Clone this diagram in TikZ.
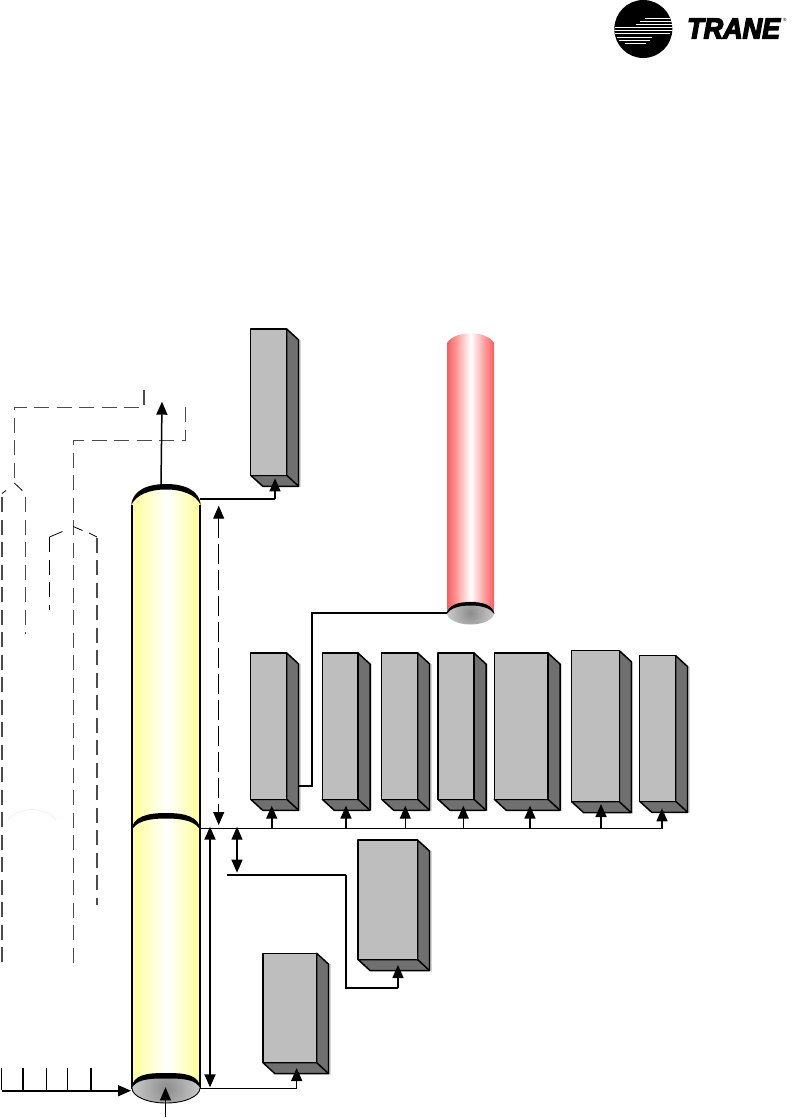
\documentclass[tikz,border=0pt]{standalone}
\usepackage{fontspec}
\setmainfont{Liberation Sans}
\newfontfamily\tranefont[ItalicFont={Liberation Sans Bold Italic},ItalicFeatures={FakeBold=5}]{Liberation Sans}
\usetikzlibrary{arrows.meta}
\definecolor{boxfront}{gray}{0.745}
\definecolor{boxdark}{gray}{0.44}
\definecolor{colyellow}{RGB}{255,255,153}
\definecolor{colred}{RGB}{255,90,90}
\definecolor{dashgray}{gray}{0.3}
\definecolor{capmid}{gray}{0.55}
\definecolor{capedge}{gray}{0.93}
\tikzset{
  x=1pt,y=-1pt,
  tip/.style={-{Triangle[length=13pt,width=11pt]}},
  tipboth/.style={{Triangle[length=13pt,width=11pt]}-{Triangle[length=13pt,width=11pt]}},
  feedline/.style={line width=1.2pt,black},
  pipe/.style={line width=1.7pt,black},
  dashline/.style={line width=1.1pt,dashgray,dash pattern=on 15pt off 7.5pt},
  dashdark/.style={line width=1.1pt,black,dash pattern=on 15pt off 7.5pt},
  boxface/.style={draw=black,line width=1.5pt,line join=round},
  frontface/.style={boxface,fill=boxfront,inner sep=0pt,outer sep=0pt,rectangle,anchor=north west},
  tick/.style={line width=1pt,black},
  tickbold/.style={line width=1.9pt,black},
  logostripe/.style={white,line width=0.8pt},
}
% name, x1, y1, x2, y2, depth-x, depth-y
\newcommand{\boxthree}[7]{%
  \pgfmathsetmacro{\bw}{#4-#2}\pgfmathsetmacro{\bh}{#5-#3}%
  \fill[black!25,opacity=.6] (#4+#6+1,#3+#7) rectangle (#4+#6+2,#5+#7+1);
  \draw[boxface,fill=boxdark] (#4,#3) -- (#4+#6,#3+#7) -- (#4+#6,#5+#7) -- (#2+#6,#5+#7) -- (#2,#5) -- (#4,#5) -- cycle;
  \draw[boxface] (#4,#5) -- (#4+#6,#5+#7);
  \node[frontface,minimum width=\bw pt,minimum height=\bh pt] (#1) at (#2,#3) {};
}
% crescent with its crown at y=#2, x-range 132..200, ends at y=#1
\newcommand{\crescent}[2]{%
  \fill[black] (131.3,#1) .. controls (132.5,#1-15) and (148,#2) .. (166,#2) .. controls (184,#2) and (199.5,#1-15) .. (200.7,#1)
     .. controls (196,#1-10) and (183,#2+5.5) .. (166,#2+5.5) .. controls (149,#2+5.5) and (136,#1-10) .. cycle;
}
\begin{document}
\begin{tikzpicture}
\useasboundingbox (0,0) rectangle (793,1118);
\fill[white] (0,0) rectangle (793,1118);

% logo
\node[circle,fill=black,minimum size=58pt,inner sep=0pt] (logo) at (643.3,29) {};
\begin{scope}
  \clip (643.3,29) circle (29);
  \foreach \ya/\xa/\xb in {18/645/670, 21/640/672, 24/636/674, 27.3/615/675, 30.6/614/673, 33.9/615/670, 37.2/617/652, 40.3/619/650, 43.5/625/646}{
    \draw[logostripe] (\xa,\ya) -- (\xb,\ya);
  }
\end{scope}
\node[anchor=west,inner sep=0pt,font=\tranefont\itshape\fontsize{29}{29}\selectfont,xscale=0.93] (brand) at (687,28.5) {TRANE};
\node[anchor=west,inner sep=0pt,font=\fontsize{4.5}{5}\selectfont] (reg) at (783,19.5) {®};

% dashed flues on the left
\coordinate (d1a) at (144,390); \coordinate (d1b) at (144,407.7); \coordinate (d1c) at (14.3,407.7); \coordinate (d1d) at (14.3,483);
\draw[dashline] (d1a) -- (d1b) -- (d1c) -- (d1d);
\coordinate (d2a) at (185.7,407); \coordinate (d2b) at (185.7,440.3); \coordinate (d2c) at (73.7,440.3); \coordinate (d2d) at (73.7,965);
\draw[dashline] (d2a) -- (d2b) -- (d2c) -- (d2d);
\draw[line width=.8pt,black] (d1d) -- (22.3,490.5);
\draw[line width=.8pt,black] (6,490.5) -- (2,493.5);
\coordinate (p1) at (2,497); \coordinate (p2) at (2,969);
\draw[dashline] (p1) -- (p2);
\coordinate (p3) at (25.7,497); \coordinate (p4) at (25.7,634);
\draw[dashline] (p3) -- (p4);
\draw[line width=.8pt,black] (73.2,526.5) -- (82.5,530.5);
\draw[line width=.8pt,black] (89,533) -- (97,537);
\draw[line width=.8pt,black] (62.5,531.5) -- (49.5,537);
\coordinate (p5) at (49.5,537); \coordinate (p6) at (49.5,610);
\draw[dashdark] (p5) -- (p6);
\coordinate (p7) at (97,537.5); \coordinate (p8) at (97,905);
\draw[dashline] (p7) -- (p8);
\coordinate (q1) at (8,820); \coordinate (q2) at (56,820);
\draw[line width=.5pt,red!10] (q1) .. controls (18,806) and (46,806) .. (q2);

% yellow column
\path[left color=colyellow,right color=colyellow,middle color=white]
  (132,1089) -- (132,505) .. controls (133,490) and (148,486) .. (166,486) .. controls (184,486) and (199,490) .. (200,505) -- (200,1089) -- cycle;
\draw[black,line width=1.6pt] (132,1089) -- (132,505);
\draw[black,line width=1.6pt] (200,1089) -- (200,505);
\node[inner sep=0pt,minimum width=68pt,minimum height=640pt] (col) at (166,788) {};
% crescents
\crescent{505}{484}
\crescent{831}{813}
% bottom ellipse
\begin{scope}
  \clip (166,1088) ellipse (34 and 15);
  \shade[inner color=capmid,outer color=capedge] (166,1088) ellipse (54 and 54);
\end{scope}
\draw[black,line width=.9pt] (132,1088) arc[start angle=180,end angle=360,x radius=34,y radius=-15];
\crescent{1089}{1073}

% red column
\path[left color=colred,right color=colred,middle color=white]
  (447,613) -- (447,343) .. controls (455,330) and (486,330) .. (494,343) -- (494,613) -- cycle;
\node[inner sep=0pt,minimum width=47pt,minimum height=280pt] (red) at (470.5,473) {};
\begin{scope}
  \clip (470.5,613) ellipse (23.5 and 11.5);
  \shade[inner color=capmid,outer color=capedge] (470.5,613) ellipse (37 and 37);
\end{scope}
\fill[black] (446.5,614) .. controls (448,605) and (458,602) .. (470.5,602) .. controls (483,602) and (493,605) .. (494.5,614) .. controls (490,608) and (482,605.5) .. (470.5,605.5) .. controls (459,605.5) and (451,608) .. cycle;

% boxes
\boxthree{bt}{250.7}{329}{286.7}{475.3}{12}{11}
\boxthree{ba}{250.7}{653}{286.7}{799.3}{12}{11}
\boxthree{bb}{322.3}{653}{358}{799.3}{12}{11}
\boxthree{bc}{381.7}{653}{417.7}{799.3}{12}{11}
\boxthree{bd}{438}{653}{474}{799.3}{12}{11}
\boxthree{be}{494.3}{653}{548}{799.3}{12}{11}
\boxthree{bf}{571.7}{650.7}{619.3}{801.7}{12}{11}
\boxthree{bg}{639.7}{655.7}{675.7}{801.3}{12}{11}
\boxthree{bh}{358}{840}{417.5}{959.5}{12}{11}
\boxthree{bi}{263}{953.3}{316.7}{1062.7}{12}{11}

% top connector
\coordinate (c1) at (200,499); \coordinate (c2) at (275,499); \coordinate (c3) at (275,478.3);
\draw[feedline] (c1) -- (c2);
\draw[tip,feedline] (c2) -- (c3);
% flue arrow
\coordinate (f1) at (161,486); \coordinate (f2) at (162,401.7);
\draw[tip,line width=1.5pt] (f1) -- (f2);
% red connector
\coordinate (r1) at (447,613); \coordinate (r2) at (311.7,613); \coordinate (r3) at (311.7,785.7); \coordinate (r4) at (298.7,785.7);
\draw[pipe] (r1) -- (r2) -- (r3) -- (r4);
% bus
\coordinate (bus0) at (200,828.5); \coordinate (bus1) at (662,828.5);
\draw[feedline] (bus0) -- (bus1);
\foreach \xx/\yy/\lw in {271.7/805.7/1.7, 346/805.7/1.7, 405.3/805.7/1, 463.3/805.7/1, 530/805.7/1.6, 601/804/1.6, 662/808.3/1.6}{
  \coordinate (ua) at (\xx,828.5); \coordinate (ub) at (\xx,\yy);
  \draw[tip,line width=\lw pt] (ua) -- (ub);
}
% dimension arrows
\coordinate (m1) at (218.7,505.7); \coordinate (m2) at (218.7,825);
\draw[tipboth,line width=1pt,dash pattern=on 20pt off 6pt] (m1) -- (m2);
\coordinate (m3) at (210,826.7); \coordinate (m4) at (210,1087.3);
\draw[tipboth,line width=2pt] (m3) -- (m4);
\coordinate (m5) at (237,826.7); \coordinate (m6) at (237,872.7);
\draw[tipboth,line width=1.2pt] (m5) -- (m6);
% lower feeds
\coordinate (l1) at (227,875); \coordinate (l2) at (346,875); \coordinate (l3) at (346,988); \coordinate (l4) at (398,988); \coordinate (l5) at (398,965);
\draw[line width=1.8pt] (l1) -- (l2);
\draw[feedline] (l2) -- (l3) -- (l4);
\draw[tip,line width=1.5pt] (l4) -- (l5);
\coordinate (n1) at (200,1088.3); \coordinate (n2) at (296.7,1088.3); \coordinate (n3) at (296.7,1068);
\draw[feedline] (n1) -- (n2);
\draw[tip,line width=1.5pt] (n2) -- (n3);
% bottom feed
\coordinate (g1) at (1.5,1090.7); \coordinate (g2) at (131,1090.7);
\draw[tip,line width=1.6pt] (g1) -- (g2);
\draw[tick] (1.7,1068.3) -- (1.7,1090);
\draw[tickbold] (23,1068.3) -- (23,1090);
\draw[tick] (46.7,1068.3) -- (46.7,1090);
\draw[tick] (67.7,1068.3) -- (67.7,1090);
\draw[tickbold] (91,1068.3) -- (91,1090);
\coordinate (h1) at (165.5,1116.7); \coordinate (h2) at (165.5,1087.3);
\draw[tip,line width=1pt] (h1) -- (h2);
\end{tikzpicture}
\end{document}
